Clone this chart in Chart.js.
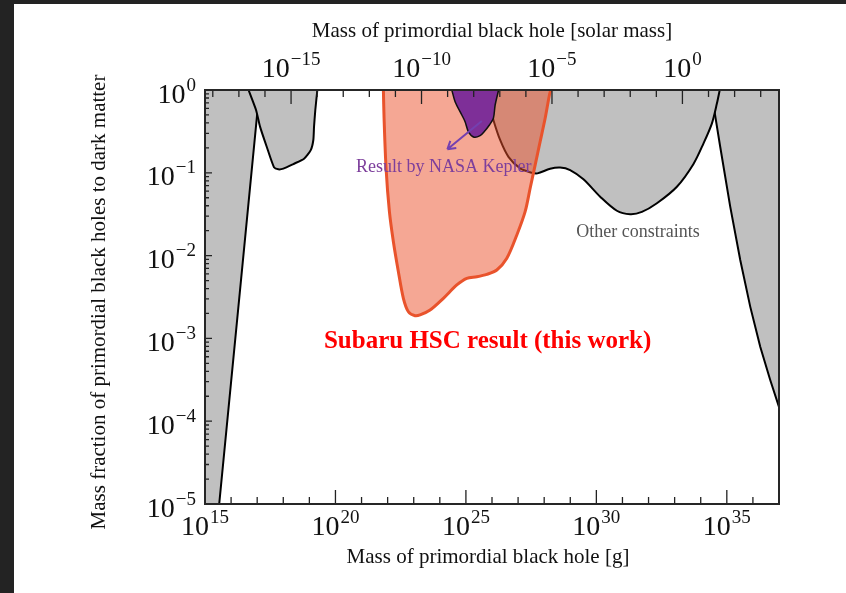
<!DOCTYPE html>
<html lang="en">
<head>
<meta charset="UTF-8">
<title>Primordial black hole constraints</title>
<script src="https://cdn.jsdelivr.net/npm/chart.js"></script>
<style>
  html, body { margin: 0; padding: 0; background: #232323; }
  #wrap { position: absolute; left: 14px; top: 4px; width: 832px; height: 589px; background: #fff; }
</style>
</head>
<body>
<div id="wrap"><canvas id="pbhChart"></canvas></div>
<script>
// grams per solar mass, used for the top axis
const SOLAR_MASS_G = 1.989e33;

// Hawking evaporation (left wedge)
const evapMass = [1e15, 1e15, 3.5e15, 1.23e17];
const evapFrac = [1, 1e-5, 1e-5, 1];

// constraint between 1e17 and 1e19 g
const lowMass = [4.66e16, 9.04e16, 1.285e17, 2.32e17, 4.43e17, 6.47e17, 1.005e18,
                 2.43e18, 6.25e18, 1.13e19, 1.42e19, 1.51e19, 1.69e19, 2.02e19];
const lowFrac = [1, 0.573, 0.361, 0.2065, 0.1164, 0.1102, 0.1122,
                 0.1276, 0.148, 0.188, 0.249, 0.361, 0.573, 1];

// other constraints (microlensing etc.)
const otherMass = [6.79e25, 8.47e25, 1.13e26, 2.05e26, 4.27e26, 1.2e27, 3.37e27, 5.51e27,
                   1.69e28, 4.09e28, 9.89e28, 3.2e29, 1.4e30, 6.11e30, 1.98e31, 5.56e31,
                   2.09e32, 1.22e33, 5.28e33, 1.28e34, 2.69e34, 4.18e34, 5.35e34];
const otherFrac = [1, 0.628, 0.435, 0.249, 0.156, 0.113, 0.1, 0.0984,
                   0.112, 0.116, 0.108, 0.0834, 0.0514, 0.0348, 0.0316, 0.0337,
                   0.0429, 0.0679, 0.128, 0.227, 0.396, 0.69, 1];

// high mass constraint (right wedge)
const highMass = [2.21e34, 3.38e34, 5.58e34, 1.35e35, 3.27e35, 7.89e35, 1.91e36, 4.61e36, 1e37, 1e37];
const highFrac = [1, 0.547, 0.2065, 0.039, 0.00885, 0.00242, 7.94e-4, 3.15e-4, 1.48e-4, 1];

// Subaru HSC (this work)
const hscMass = [6.87e21, 7.3e21, 8.71e21, 1.17e22, 1.66e22, 2.58e22, 4.01e22, 6.24e22,
                 1.13e23, 1.75e23, 4.24e23, 1.37e24, 4.48e24, 1.08e25, 2.62e25, 6.32e25,
                 1.53e26, 3.7e26, 8.95e26, 1.86e27, 2.9e27, 4.5e27, 7.0e27, 1.09e28, 1.59e28, 1.8e28];
const hscFrac = [1, 0.455, 0.113, 0.0339, 0.01472, 0.0064, 0.00305, 0.0021,
                 0.00188, 0.00192, 0.0022, 0.00305, 0.00442, 0.00532, 0.00556, 0.00594,
                 0.0067, 0.00927, 0.01774, 0.0339, 0.065, 0.124, 0.238, 0.455, 0.871, 1];

// NASA Kepler
const keplerMass = [2.88e24, 3.85e24, 6.97e24, 9.31e24, 1.25e25, 2.06e25, 3.5e25, 4.99e25,
                    7.96e25, 1.13e26, 1.32e26, 1.79e26];
const keplerFrac = [1, 0.723, 0.499, 0.414, 0.313, 0.269, 0.281, 0.313, 0.378, 0.455, 0.659, 1];

// tick decades
const bottomDecades = [15, 16, 17, 18, 19, 20, 21, 22, 23, 24, 25, 26, 27, 28, 29, 30, 31, 32, 33, 34, 35, 36];
const topDecades = [-18, -17, -16, -15, -14, -13, -12, -11, -10, -9, -8, -7, -6, -5, -4, -3, -2, -1, 0, 1, 2, 3];
const leftDecades = [-5, -4, -3, -2, -1, 0];

function pts(xs, ys) {
    return xs.map((x, i) => ({ x: x, y: ys[i] }));
}

const SERIF = '"Liberation Serif", "DejaVu Serif", serif';

// text notes, placed in data coordinates
const notes = [
    { text: 'Result by NASA Kepler', x: 1.40e24, y: 0.102, color: '#7d3f9c', font: '18px ' + SERIF },
    { text: 'Other constraints', x: 3.98e31, y: 0.0168, color: '#555555', font: '18px ' + SERIF },
    { text: 'Subaru HSC result (this work)', x: 6.8e25, y: 7.66e-4, color: '#ff0000', font: 'bold 25px ' + SERIF }
];
const keplerArrow = { from: [4.07e25, 0.423], to: [1.95e24, 0.192] };

function region(data, fillColor, lineColor, lineWidth, tension) {
    return {
        data: data,
        fill: 'shape',
        backgroundColor: fillColor,
        borderColor: lineColor,
        borderWidth: lineWidth,
        tension: tension,
        pointRadius: 0,
        pointHoverRadius: 0,
        clip: 0
    };
}

function drawPower(ctx, exp, x, y, align) {
    const base = '10';
    const sup = exp < 0 ? '\u2212' + (-exp) : String(exp);
    ctx.font = '28px ' + SERIF;
    const wb = ctx.measureText(base).width;
    ctx.font = '19px ' + SERIF;
    const ws = ctx.measureText(sup).width + 1;
    const w = wb + ws;
    let left = x;
    if (align === 'right') left = x - w;
    if (align === 'center') left = x - w / 2;
    ctx.textAlign = 'left';
    ctx.textBaseline = 'alphabetic';
    ctx.font = '28px ' + SERIF;
    ctx.fillText(base, left, y);
    ctx.font = '19px ' + SERIF;
    ctx.fillText(sup, left + wb + 1, y - 12);
}

const axesPlugin = {
    id: 'axesPlugin',
    afterDraw(chart) {
        const ctx = chart.ctx;
        const a = chart.chartArea;
        const sx = chart.scales.x, st = chart.scales.x2, sy = chart.scales.y;
        ctx.save();

        // arrow from the Kepler region to its label
        const p0 = { x: sx.getPixelForValue(keplerArrow.from[0]), y: sy.getPixelForValue(keplerArrow.from[1]) };
        const p1 = { x: sx.getPixelForValue(keplerArrow.to[0]), y: sy.getPixelForValue(keplerArrow.to[1]) };
        const ang = Math.atan2(p1.y - p0.y, p1.x - p0.x);
        ctx.strokeStyle = '#7440b0';
        ctx.lineWidth = 2;
        ctx.beginPath();
        ctx.moveTo(p0.x, p0.y);
        ctx.lineTo(p1.x, p1.y);
        for (const s of [-1, 1]) {
            ctx.moveTo(p1.x, p1.y);
            ctx.lineTo(p1.x - 9 * Math.cos(ang + s * 0.55), p1.y - 9 * Math.sin(ang + s * 0.55));
        }
        ctx.stroke();

        // notes
        ctx.textAlign = 'center';
        ctx.textBaseline = 'alphabetic';
        notes.forEach(n => {
            ctx.font = n.font;
            ctx.fillStyle = n.color;
            ctx.fillText(n.text, sx.getPixelForValue(n.x), sy.getPixelForValue(n.y));
        });

        // inward ticks
        ctx.strokeStyle = '#222';
        ctx.lineWidth = 1.3;
        ctx.beginPath();
        bottomDecades.forEach(e => {
            const x = sx.getPixelForValue(Math.pow(10, e));
            const len = e % 5 === 0 ? 14 : 7;
            ctx.moveTo(x, a.bottom);
            ctx.lineTo(x, a.bottom - len);
        });
        topDecades.forEach(e => {
            const x = st.getPixelForValue(Math.pow(10, e));
            const len = e % 5 === 0 ? 14 : 7;
            ctx.moveTo(x, a.top);
            ctx.lineTo(x, a.top + len);
        });
        leftDecades.forEach(e => {
            const y = sy.getPixelForValue(Math.pow(10, e));
            ctx.moveTo(a.left, y);
            ctx.lineTo(a.left + 7, y);
            if (e < 0) {
                for (let m = 2; m <= 9; m++) {
                    const ym = sy.getPixelForValue(m * Math.pow(10, e));
                    ctx.moveTo(a.left, ym);
                    ctx.lineTo(a.left + 4, ym);
                }
            }
        });
        ctx.stroke();

        // frame
        ctx.strokeStyle = '#262626';
        ctx.lineWidth = 2;
        ctx.strokeRect(a.left, a.top, a.right - a.left, a.bottom - a.top);

        // tick labels
        ctx.fillStyle = '#111';
        bottomDecades.filter(e => e % 5 === 0).forEach(e => {
            drawPower(ctx, e, sx.getPixelForValue(Math.pow(10, e)), a.bottom + 31, 'center');
        });
        topDecades.filter(e => e % 5 === 0).forEach(e => {
            drawPower(ctx, e, st.getPixelForValue(Math.pow(10, e)), a.top - 13, 'center');
        });
        leftDecades.forEach(e => {
            drawPower(ctx, e, a.left - 9, sy.getPixelForValue(Math.pow(10, e)) + 12.5, 'right');
        });

        // axis titles
        const cx = (a.left + a.right) / 2;
        ctx.font = '21px ' + SERIF;
        ctx.textAlign = 'center';
        ctx.textBaseline = 'alphabetic';
        ctx.fillText('Mass of primordial black hole [g]', cx - 4, a.bottom + 59);
        ctx.fillText('Mass of primordial black hole [solar mass]', cx, a.top - 53);
        ctx.save();
        ctx.translate(85, (a.top + a.bottom) / 2 + 5);
        ctx.rotate(-Math.PI / 2);
        ctx.textBaseline = 'middle';
        ctx.fillText('Mass fraction of primordial black holes to dark matter', 0, 0);
        ctx.restore();

        ctx.restore();
    }
};

const data = {
    datasets: [
        region(pts(keplerMass, keplerFrac), '#7e2f98', '#111', 1.5, 0.3),
        region(pts(hscMass, hscFrac), 'rgba(236, 80, 42, 0.5)', '#e9532c', 3, 0.3),
        region(pts(otherMass, otherFrac), '#c0c0c0', '#000', 2, 0.3),
        region(pts(highMass, highFrac), '#c0c0c0', '#000', 2, 0),
        region(pts(lowMass, lowFrac), '#c0c0c0', '#000', 2, 0.2),
        region(pts(evapMass, evapFrac), '#c0c0c0', '#000', 2, 0)
    ]
};

const hidden = { ticks: { display: false }, grid: { display: false }, border: { display: false } };

const config = {
    type: 'line',
    data: data,
    options: {
        responsive: true,
        maintainAspectRatio: false,
        animation: false,
        events: [],
        layout: { padding: { left: 0, top: 0, right: 67, bottom: 0 } },
        plugins: {
            legend: { display: false },
            tooltip: { enabled: false }
        },
        scales: {
            x: Object.assign({
                type: 'logarithmic', position: 'bottom', min: 1e15, max: 1e37,
                afterFit: s => { s.height = 89; }
            }, hidden),
            x2: Object.assign({
                type: 'logarithmic', axis: 'x', position: 'top',
                min: 1e15 / SOLAR_MASS_G, max: 1e37 / SOLAR_MASS_G,
                afterFit: s => { s.height = 86; }
            }, hidden),
            y: Object.assign({
                type: 'logarithmic', position: 'left', min: 1e-5, max: 1,
                afterFit: s => { s.width = 191; }
            }, hidden)
        }
    },
    plugins: [axesPlugin]
};

const ctx = document.querySelector('#pbhChart').getContext('2d');
const pbhChart = new Chart(ctx, config);
</script>
</body>
</html>
